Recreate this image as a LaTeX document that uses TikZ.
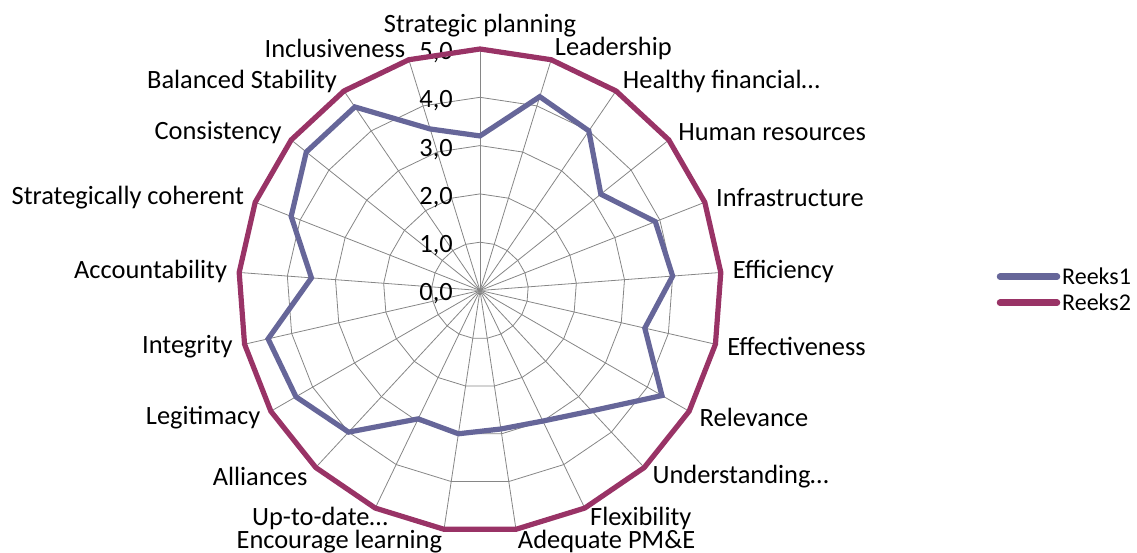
\documentclass[tikz,border=0pt]{standalone}
\usepackage{fontspec}
\setmainfont{Carlito}
\usepackage{tikz}
\usetikzlibrary{calc}
\definecolor{reeksone}{RGB}{102,102,153}
\definecolor{reekstwo}{RGB}{153,51,102}
\definecolor{gridgray}{RGB}{134,134,134}

\begin{document}
\begin{tikzpicture}[x = 1pt, y = 1pt, font = \fontsize{26.4}{30}\selectfont,
    gridline/.style = {gridgray, line width = 0.8pt},
    serie/.style = {line width = 5.2pt}]
    \useasboundingbox (-480,-262.5) rectangle (657,290.5);
    \def \R{241.5}
    \def \valA{{3.2, 4.2, 4.0, 3.2, 3.9, 4.0, 3.5, 4.35, 3.4, 3.0, 2.9, 3.0, 2.95, 4.0, 4.4, 4.5, 3.5, 4.2, 4.6, 4.6, 3.5}}

    % spider web
    \foreach \i in {0,...,20}{
        \draw[gridline] (0,0) -- ({90-\i*360/21}:\R);
    }
    \foreach \k in {1,...,5}{
        \draw[gridline] (90:{\k*\R/5}) \foreach \i in {1,...,20}{ -- ({90-\i*360/21}:{\k*\R/5})} -- cycle;
    }
    \foreach \k in {0,...,5}{
        \node[anchor = base east, inner sep = 0] (val\k) at (-27,{\k*\R/5-10.5}) {\k,0};
    }

    % data points
    \foreach \i in {0,...,20}{
        \pgfmathsetmacro\ang{90-\i*360/21}
        \pgfmathsetmacro\r{\valA[\i]*\R/5}
        \coordinate (a\i) at (\ang:\r);
        \coordinate (b\i) at (\ang:\R);
    }
    \draw[serie, reeksone] (a0) \foreach \i in {1,...,20}{ -- (a\i)} -- cycle;
    \draw[serie, reekstwo] (b0) \foreach \i in {1,...,20}{ -- (b\i)} -- cycle;

    % category labels
    \foreach \i/\txt/\dx in {0/Strategic planning/0, 1/Leadership/0, 2/Healthy financial…/0,
        3/Human resources/0, 4/Infrastructure/0, 5/Efficiency/0, 6/Effectiveness/0,
        7/Relevance/0, 8/Understanding…/0, 9/Flexibility/0, 10/Adequate PM\&E/0,
        11/Encourage learning/0, 12/Up-to-date…/18, 13/Alliances/0, 14/Legitimacy/0,
        15/Integrity/0, 16/Accountability/0, 17/Strategically coherent/0,
        18/Consistency/0, 19/Balanced Stability/0, 20/Inclusiveness/0}{
        \pgfmathsetmacro\ang{90-\i*360/21}
        \ifnum\i=0 \def\anc{south}\else\ifnum\i<11 \def\anc{west}\else\def\anc{east}\fi\fi
        \node[anchor = \anc, inner sep = 0] (lab\i) at ($(\ang:\R+12)+(\dx,0)$) {\txt};
    }

    % legend
    \coordinate (leg1a) at (520,13.8);
    \coordinate (leg1b) at (577,13.8);
    \coordinate (leg2a) at (520,-12.2);
    \coordinate (leg2b) at (577,-12.2);
    \draw[reeksone, line width = 6.5pt, line cap = round] (leg1a) -- (leg1b);
    \draw[reekstwo, line width = 6.5pt, line cap = round] (leg2a) -- (leg2b);
    \node[anchor = west, inner sep = 0, font = \fontsize{24}{28}\selectfont] (reeks1) at (582,13.8) {Reeks1};
    \node[anchor = west, inner sep = 0, font = \fontsize{24}{28}\selectfont] (reeks2) at (582,-12.2) {Reeks2};
\end{tikzpicture}
\end{document}
